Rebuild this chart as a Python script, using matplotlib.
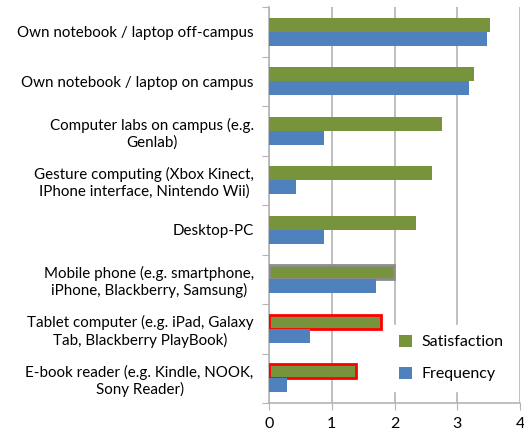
import matplotlib.pyplot as plt
import numpy as np

categories = [
    "Own notebook / laptop off-campus",
    "Own notebook / laptop on campus",
    "Computer labs on campus (e.g.\nGenlab)",
    "Gesture computing (Xbox Kinect,\nIPhone interface, Nintendo Wii)",
    "Desktop-PC",
    "Mobile phone (e.g. smartphone,\niPhone, Blackberry, Samsung)",
    "Tablet computer (e.g. iPad, Galaxy\nTab, Blackberry PlayBook)",
    "E-book reader (e.g. Kindle, NOOK,\nSony Reader)",
]
satisfaction = [3.52, 3.27, 2.76, 2.60, 2.34, 1.99, 1.78, 1.39]
frequency = [3.48, 3.19, 0.88, 0.43, 0.87, 1.70, 0.66, 0.29]

plt.rcParams['font.family'] = ['Lato', 'DejaVu Sans']

green = '#77933C'
blue = '#4F81BD'
grid = '#B4B4B4'

fig = plt.figure(figsize=(5.24, 4.32), dpi=100)
ax = fig.add_axes([269 / 524, 29 / 432, 251 / 524, 396 / 432])

y = np.arange(len(categories))
h = 0.285
sat_bars = ax.barh(y - h / 2, satisfaction, height=h, color=green, label='Satisfaction', zorder=3)
freq_bars = ax.barh(y + h / 2, frequency, height=h, color=blue, label='Frequency', zorder=3)

# highlighted outlines as in the original
sat_bars[5].set_edgecolor('#8C8C8C')
sat_bars[5].set_linewidth(2)
for i in (6, 7):
    sat_bars[i].set_edgecolor('#FF0000')
    sat_bars[i].set_linewidth(2)

ax.set_xlim(0, 4)
ax.set_ylim(len(categories) - 0.5, -0.5)
ax.set_xticks([0, 1, 2, 3, 4])
ax.tick_params(axis='x', labelsize=11.5, length=5, color=grid, pad=5)
ax.xaxis.grid(True, color=grid, linewidth=1.2, zorder=0)

ax.set_yticks(np.arange(len(categories) + 1) - 0.5)
ax.set_yticklabels([])
ax.tick_params(axis='y', which='major', length=5, color=grid)
ax.set_yticks(y, minor=True)
ax.set_yticklabels(categories, minor=True, fontsize=10.9, multialignment='center')
ax.tick_params(axis='y', which='minor', length=0, pad=11)

for s in ('top', 'right'):
    ax.spines[s].set_visible(False)
for s in ('left', 'bottom'):
    ax.spines[s].set_color(grid)
    ax.spines[s].set_linewidth(1.2)

leg = ax.legend(loc='lower right', bbox_to_anchor=(1.005, 0.01), frameon=True, fontsize=11.5,
                handlelength=0.8, handleheight=0.8, handletextpad=0.6, labelspacing=1.1,
                borderpad=0.6, fancybox=False, edgecolor='white', framealpha=1)

fig.savefig('out.png', dpi=100)
